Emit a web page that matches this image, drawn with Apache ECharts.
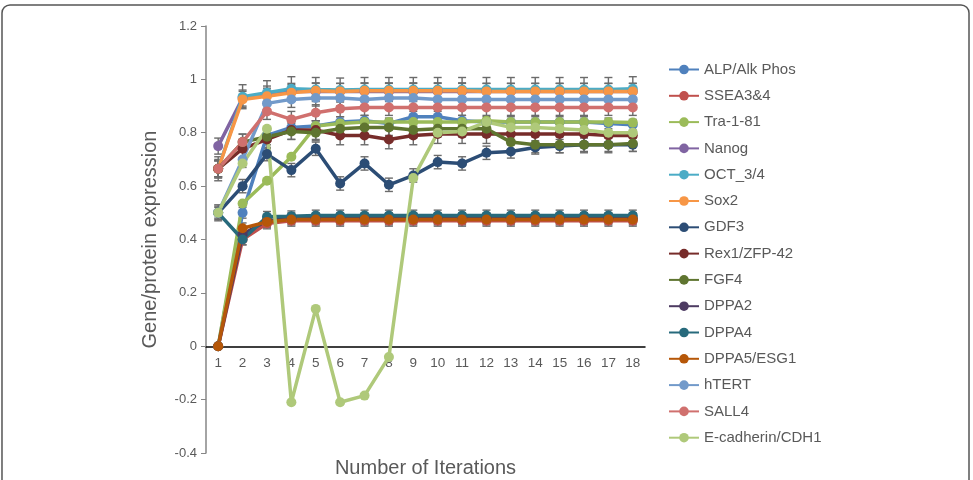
<!DOCTYPE html>
<html>
<head>
<meta charset="utf-8">
<script src="https://cdn.jsdelivr.net/npm/echarts@6/dist/echarts.min.js"></script>
<style>
  html, body { margin: 0; padding: 0; background: #fff; }
  #main { width: 973px; height: 480px; }
</style>
</head>
<body>
<div id="main"></div>
<script>
// iterations on x
const iterations = ['1', '2', '3', '4', '5', '6', '7', '8', '9', '10', '11', '12', '13', '14', '15', '16', '17', '18'];

// series values
const alp = [0, 0.50, 0.79, 0.82, 0.825, 0.84, 0.845, 0.835, 0.86, 0.86, 0.845, 0.84, 0.84, 0.84, 0.84, 0.84, 0.835, 0.83];
const ssea = [0, 0.40, 0.46, 0.47, 0.47, 0.47, 0.47, 0.47, 0.47, 0.47, 0.47, 0.47, 0.47, 0.47, 0.47, 0.47, 0.47, 0.47];
const tra = [0, 0.535, 0.62, 0.71, 0.825, 0.835, 0.84, 0.84, 0.84, 0.84, 0.84, 0.845, 0.84, 0.84, 0.84, 0.84, 0.84, 0.838];
const nanog = [0.75, 0.93, 0.945, 0.955, 0.955, 0.955, 0.955, 0.955, 0.955, 0.955, 0.955, 0.955, 0.955, 0.955, 0.955, 0.955, 0.955, 0.955];
const oct = [0.665, 0.935, 0.95, 0.965, 0.962, 0.96, 0.962, 0.962, 0.962, 0.962, 0.962, 0.962, 0.962, 0.962, 0.962, 0.962, 0.962, 0.965];
const sox2 = [0.665, 0.925, 0.937, 0.95, 0.957, 0.955, 0.957, 0.957, 0.957, 0.957, 0.957, 0.955, 0.955, 0.955, 0.955, 0.955, 0.955, 0.955];
const gdf3 = [0.5, 0.6, 0.72, 0.66, 0.74, 0.61, 0.685, 0.605, 0.64, 0.69, 0.685, 0.725, 0.73, 0.745, 0.75, 0.755, 0.755, 0.755];
const rex1 = [0.665, 0.74, 0.775, 0.81, 0.81, 0.79, 0.79, 0.775, 0.79, 0.795, 0.795, 0.795, 0.795, 0.795, 0.795, 0.795, 0.79, 0.79];
const fgf4 = [0.665, 0.765, 0.785, 0.805, 0.80, 0.815, 0.82, 0.82, 0.81, 0.815, 0.815, 0.815, 0.765, 0.755, 0.755, 0.755, 0.755, 0.76];
const dppa2 = [0, 0.42, 0.47, 0.48, 0.48, 0.48, 0.48, 0.48, 0.48, 0.48, 0.48, 0.48, 0.48, 0.48, 0.48, 0.48, 0.48, 0.48];
const dppa4 = [0.5, 0.40, 0.485, 0.487, 0.49, 0.49, 0.49, 0.49, 0.49, 0.49, 0.49, 0.49, 0.49, 0.49, 0.49, 0.49, 0.49, 0.49];
const dppa5 = [0, 0.442, 0.466, 0.475, 0.475, 0.475, 0.475, 0.475, 0.475, 0.475, 0.475, 0.475, 0.475, 0.475, 0.475, 0.475, 0.475, 0.475];
const htert = [0.5, 0.70, 0.91, 0.925, 0.93, 0.93, 0.925, 0.93, 0.93, 0.925, 0.925, 0.925, 0.925, 0.925, 0.925, 0.925, 0.925, 0.925];
const sall4 = [0.665, 0.765, 0.88, 0.85, 0.875, 0.89, 0.895, 0.895, 0.895, 0.895, 0.895, 0.895, 0.895, 0.895, 0.895, 0.895, 0.895, 0.895];
const ecad = [0.5, 0.685, 0.815, -0.21, 0.14, -0.21, -0.185, -0.04, 0.63, 0.80, 0.805, 0.84, 0.82, 0.82, 0.815, 0.81, 0.80, 0.80];

const names = ['ALP/Alk Phos', 'SSEA3&4', 'Tra-1-81', 'Nanog', 'OCT_3/4', 'Sox2', 'GDF3', 'Rex1/ZFP-42',
  'FGF4', 'DPPA2', 'DPPA4', 'DPPA5/ESG1', 'hTERT', 'SALL4', 'E-cadherin/CDH1'];
const values = [alp, ssea, tra, nanog, oct, sox2, gdf3, rex1, fgf4, dppa2, dppa4, dppa5, htert, sall4, ecad];
// +/- error per series (0 = no bars)
const errors = [0.02, 0.02, 0, 0.03, 0.045, 0.03, 0.025, 0.035, 0.03, 0.02, 0.02, 0.02, 0.03, 0.03, 0];
const colors = ['#4F81BD', '#C0504D', '#9BBB59', '#8064A2', '#4BACC6', '#F79646', '#2C4D75', '#772C2A',
  '#5F7530', '#4D3B62', '#276A7C', '#B65708', '#729ACA', '#D0706E', '#AFC97A'];

const chart = echarts.init(document.getElementById('main'));

const series = [];
values.forEach((vals, i) => {
  if (errors[i] > 0) {
    const barData = [];
    vals.forEach((v, k) => {
      if (v !== 0) barData.push([k, v - errors[i], v + errors[i]]);
    });
    series.push({
      type: 'custom',
      name: names[i] + ' err',
      z: 1,
      silent: true,
      renderItem: function (params, api) {
        const lo = api.coord([api.value(0), api.value(1)]);
        const hi = api.coord([api.value(0), api.value(2)]);
        const w = 4;
        const style = { stroke: '#6b6b6b', lineWidth: 1.4 };
        return {
          type: 'group',
          children: [
            { type: 'line', shape: { x1: lo[0], y1: lo[1], x2: hi[0], y2: hi[1] }, style: style },
            { type: 'line', shape: { x1: lo[0] - w, y1: lo[1], x2: lo[0] + w, y2: lo[1] }, style: style },
            { type: 'line', shape: { x1: hi[0] - w, y1: hi[1], x2: hi[0] + w, y2: hi[1] }, style: style }
          ]
        };
      },
      encode: { x: 0, y: [1, 2] },
      data: barData
    });
  }
});
values.forEach((vals, i) => {
  series.push({
    type: 'line',
    name: names[i],
    z: 2,
    data: vals,
    symbol: 'circle',
    symbolSize: 10,
    lineStyle: { width: 3.5, color: colors[i] },
    itemStyle: { color: colors[i] }
  });
});

chart.setOption({
  animation: false,
  backgroundColor: '#fff',
  textStyle: { fontFamily: 'Liberation Sans, Arial, sans-serif' },
  graphic: [{
    type: 'rect',
    shape: { x: 2, y: 5, width: 967, height: 500, r: 8 },
    style: { fill: 'none', stroke: '#555', lineWidth: 1.5 },
    silent: true
  }],
  grid: { left: 206, right: 328, top: 26, bottom: 27, containLabel: false, outerBoundsMode: 'none' },
  legend: {
    data: names,
    orient: 'vertical',
    left: 668,
    top: 62,
    height: 418,
    padding: 0,
    itemWidth: 30,
    itemHeight: 12,
    itemGap: 11.3,
    textStyle: { fontSize: 15, color: '#595959' }
  },
  xAxis: {
    type: 'category',
    data: iterations,
    name: 'Number of Iterations',
    nameLocation: 'middle',
    nameGap: 112,
    nameTextStyle: { fontSize: 20, color: '#595959' },
    // x axis sits at y = 0 (grid height 427 px spans 1.6 units)
    offset: -106.75,
    axisLine: { onZero: false, lineStyle: { color: '#000', width: 1.5 } },
    axisTick: { show: false },
    axisLabel: { fontSize: 13.5, color: '#595959', margin: 10 }
  },
  yAxis: {
    type: 'value',
    min: -0.4,
    max: 1.2,
    interval: 0.2,
    name: 'Gene/protein expression',
    nameLocation: 'middle',
    nameGap: 46,
    nameTextStyle: { fontSize: 20, color: '#595959' },
    axisLine: { show: true, lineStyle: { color: '#868686', width: 1.5 } },
    axisTick: { show: true, length: 5, lineStyle: { color: '#868686' } },
    splitLine: { show: false },
    axisLabel: { fontSize: 13, color: '#595959', margin: 9 }
  },
  series: series
});
</script>
</body>
</html>
